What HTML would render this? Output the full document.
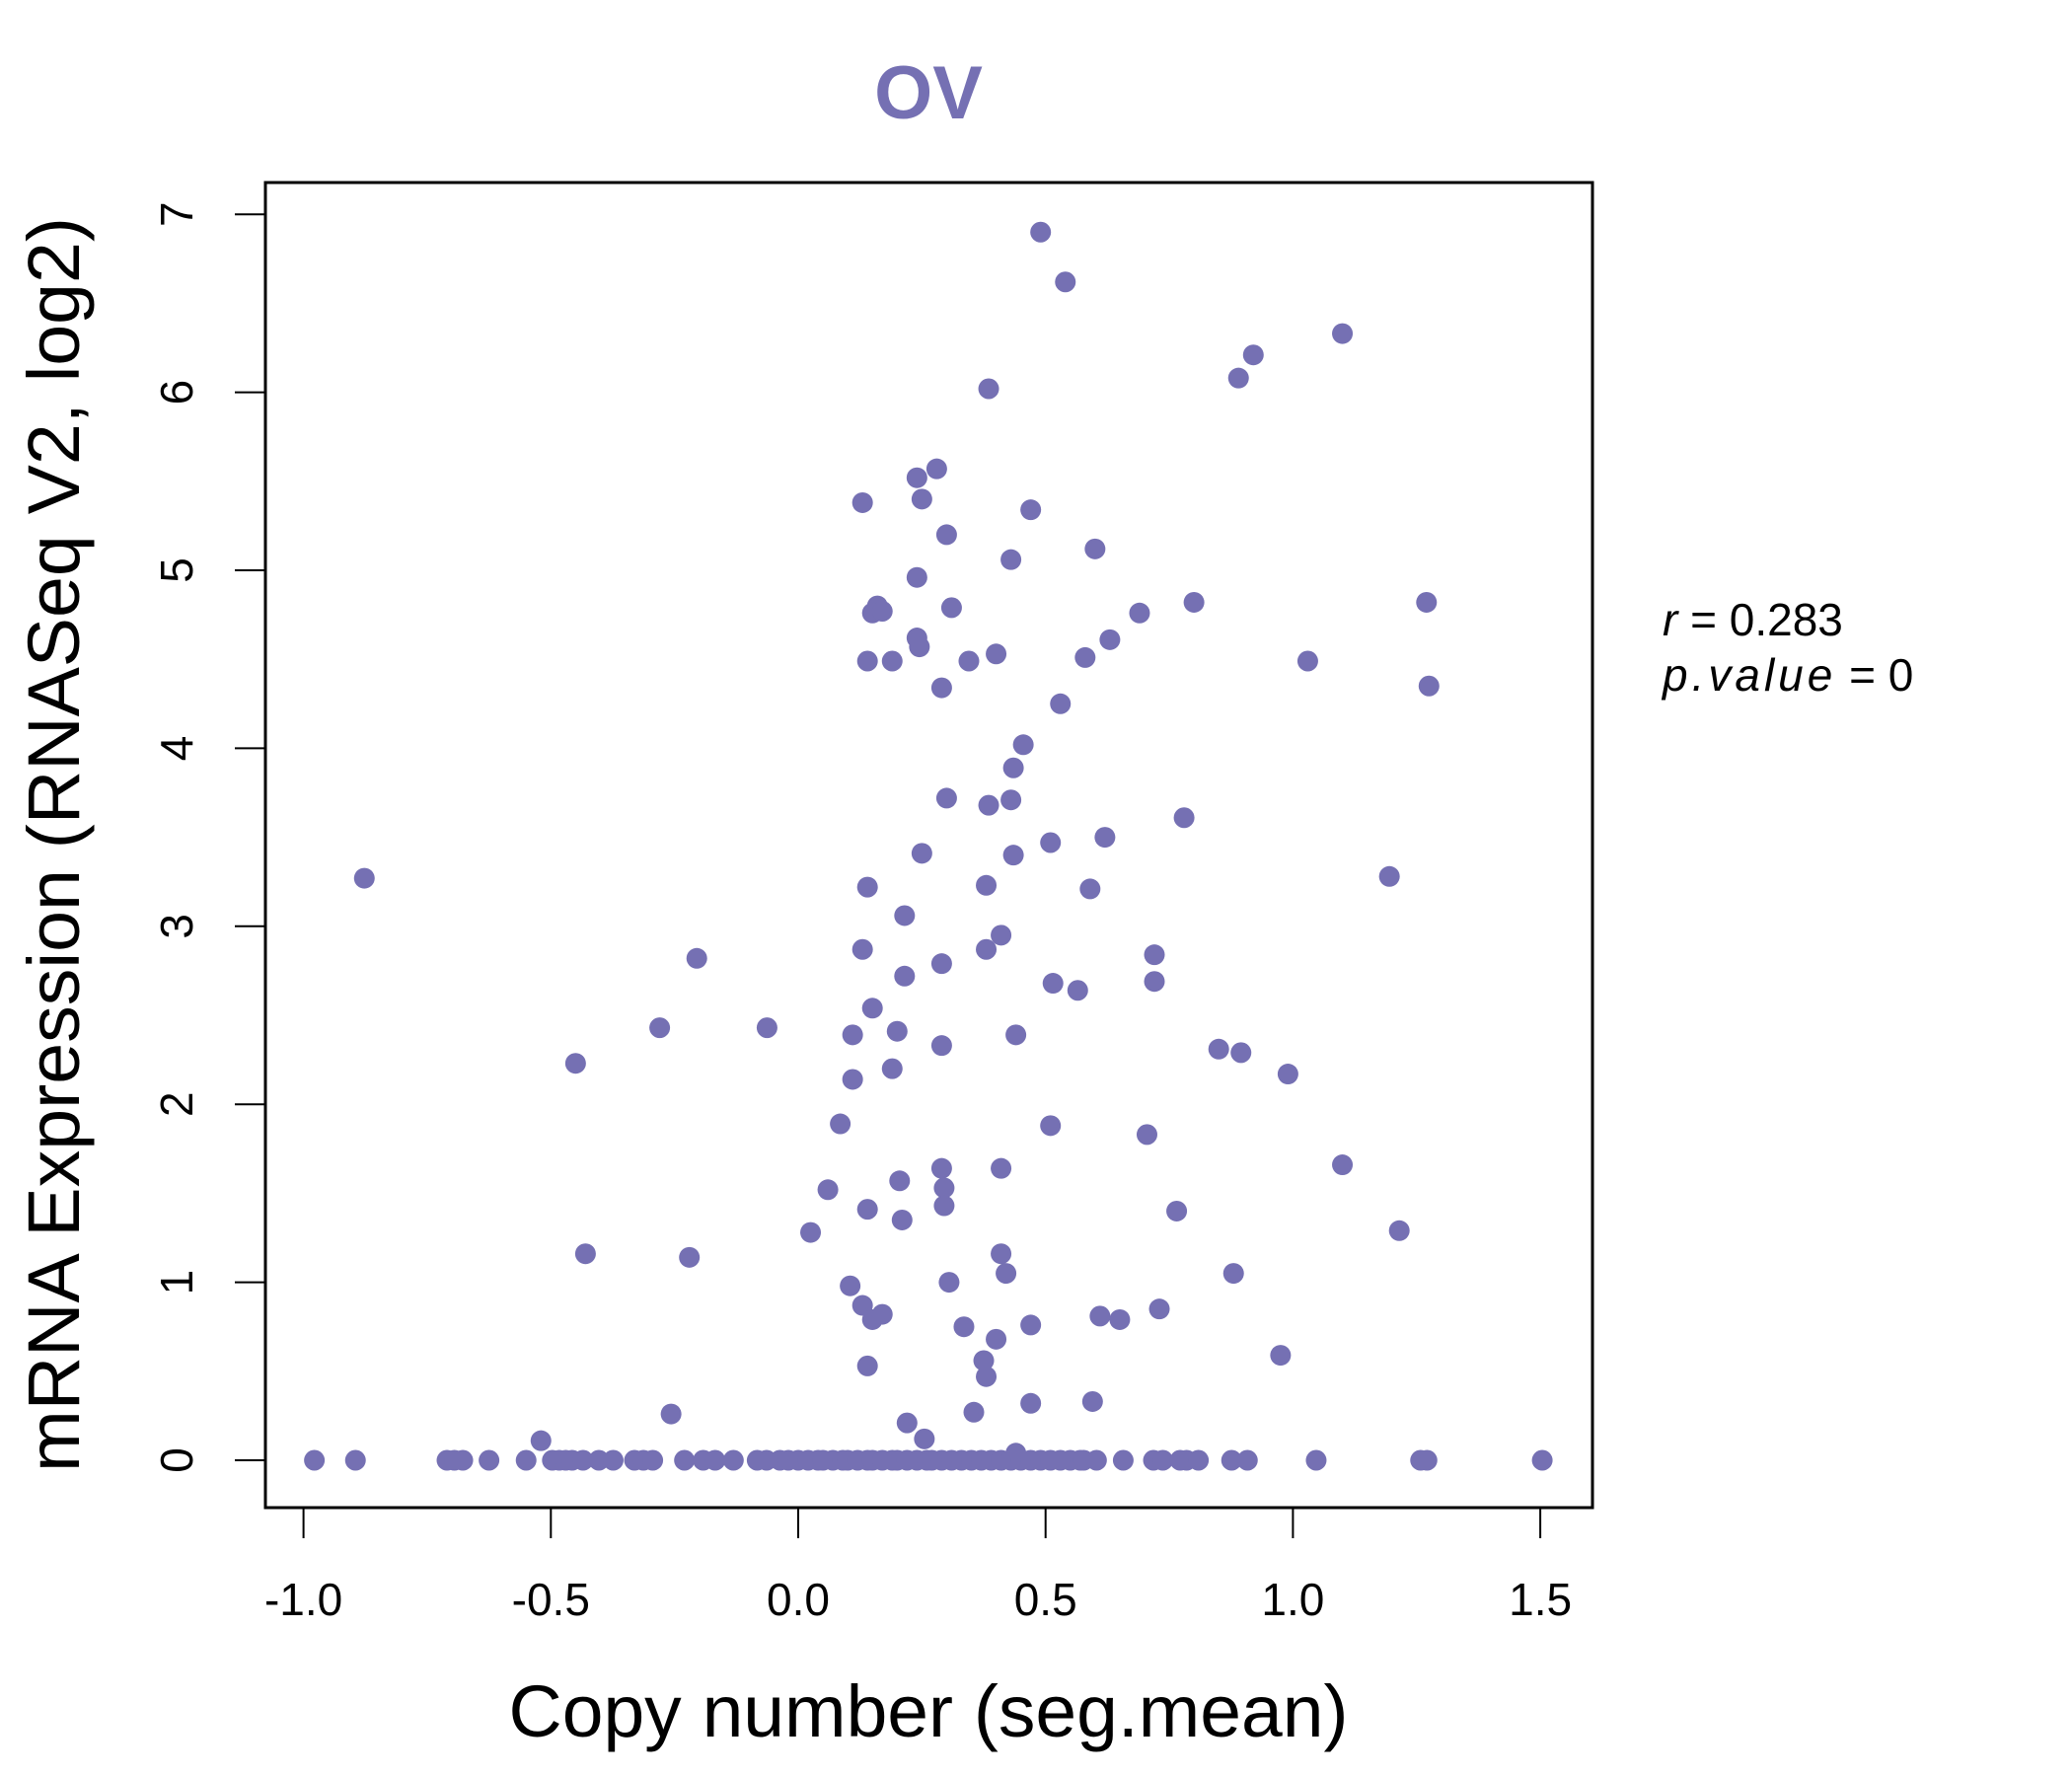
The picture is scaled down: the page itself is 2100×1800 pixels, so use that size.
<!DOCTYPE html>
<html><head><meta charset="utf-8"><style>
html,body{margin:0;padding:0;background:#fff;}
svg{display:block;}
text{font-family:"Liberation Sans",sans-serif;}
</style></head><body>
<svg id="chart" width="2100" height="1800" viewBox="0 0 2100 1800" xmlns="http://www.w3.org/2000/svg">
<rect width="2100" height="1800" fill="#fff"/>
<text x="941" y="120" font-size="76" font-weight="bold" fill="#7570b3" text-anchor="middle">OV</text>
<rect x="269" y="185" width="1345" height="1343" fill="none" stroke="#000" stroke-width="3"/>
<g id="xaxis"></g>
<g id="yaxis"></g>
<g id="points"></g>
<text x="941" y="1760" font-size="74" text-anchor="middle" textLength="851" lengthAdjust="spacingAndGlyphs">Copy number (seg.mean)</text>
<text transform="translate(80,856) rotate(-90)" font-size="74" text-anchor="middle" textLength="1272" lengthAdjust="spacingAndGlyphs">mRNA Expression (RNASeq V2, log2)</text>
<text x="1685" y="644" font-size="46"><tspan font-style="italic">r</tspan> = 0.283</text>
<text x="1685" y="700" font-size="46"><tspan font-style="italic" letter-spacing="4">p.value</tspan> = 0</text>
</svg>
<script>
const xTicks = [-1.0, -0.5, 0.0, 0.5, 1.0, 1.5];
const xTickLabels = ["-1.0", "-0.5", "0.0", "0.5", "1.0", "1.5"];
const yTicks = [0, 1, 2, 3, 4, 5, 6, 7];
const yTickLabels = ["0", "1", "2", "3", "4", "5", "6", "7"];
const xValues = [0.49,0.54,1.10,0.92,0.89,0.385,0.28,0.24,0.13,0.25,0.47,0.30,0.60,0.43,0.24,1.27,0.80,0.31,0.16,0.15,0.17,0.69,0.24,0.63,0.245,0.40,0.345,0.58,0.14,0.19,1.03,1.275,0.29,0.53,0.455,0.435,0.30,0.43,0.385,0.78,0.62,0.51,0.25,0.435,-0.877,1.195,0.38,0.14,0.59,0.215,0.41,0.72,0.13,0.38,-0.205,0.29,0.215,0.72,0.515,0.565,0.15,-0.28,-0.063,0.11,0.20,0.44,0.29,0.85,0.895,-0.45,0.19,0.99,0.11,0.085,0.51,0.705,1.10,0.29,0.41,0.205,0.06,0.295,0.295,0.14,0.765,0.21,1.215,0.025,-0.43,0.41,-0.22,0.42,0.88,0.305,0.105,0.13,0.73,0.17,0.15,0.61,0.65,0.335,0.47,0.40,0.975,0.375,0.14,0.38,0.595,0.47,-0.257,0.355,0.22,0.255,-0.52,0.44,
-0.978,-0.895,-0.71,-0.695,-0.678,-0.625,-0.55,-0.497,-0.483,-0.47,-0.457,-0.435,-0.403,-0.374,-0.331,-0.313,-0.294,-0.23,-0.192,-0.168,-0.131,-0.083,-0.064,-0.037,-0.02,0,0.02,0.04,0.05,0.07,0.09,0.1,0.12,0.14,0.15,0.17,0.19,0.2,0.22,0.24,0.26,0.27,0.29,0.31,0.33,0.35,0.37,0.39,0.41,0.43,0.45,0.47,0.49,0.51,0.53,0.55,0.57,0.577,0.603,0.657,0.718,0.737,0.772,0.785,0.809,0.876,0.908,1.047,1.258,1.271,1.504];
const yValues = [6.90,6.62,6.33,6.21,6.08,6.02,5.57,5.52,5.38,5.40,5.34,5.20,5.12,5.06,4.96,4.82,4.82,4.79,4.80,4.76,4.77,4.76,4.62,4.61,4.57,4.53,4.49,4.51,4.49,4.49,4.49,4.35,4.34,4.25,4.02,3.89,3.72,3.71,3.68,3.61,3.50,3.47,3.41,3.40,3.27,3.28,3.23,3.22,3.21,3.06,2.95,2.84,2.87,2.87,2.82,2.79,2.72,2.69,2.68,2.64,2.54,2.43,2.43,2.39,2.41,2.39,2.33,2.31,2.29,2.23,2.20,2.17,2.14,1.89,1.88,1.83,1.66,1.64,1.64,1.57,1.52,1.53,1.43,1.41,1.40,1.35,1.29,1.28,1.16,1.16,1.14,1.05,1.05,1.00,0.98,0.87,0.85,0.82,0.79,0.81,0.79,0.75,0.76,0.68,0.59,0.56,0.53,0.47,0.33,0.32,0.26,0.27,0.21,0.12,0.11,0.04,
0,0,0,0,0,0,0,0,0,0,0,0,0,0,0,0,0,0,0,0,0,0,0,0,0,0,0,0,0,0,0,0,0,0,0,0,0,0,0,0,0,0,0,0,0,0,0,0,0,0,0,0,0,0,0,0,0,0,0,0,0,0,0,0,0,0,0,0,0,0,0];
const NS = "http://www.w3.org/2000/svg";
function xScale(v){ return 809 + v*501.4; }
function yScale(v){ return 1480 - v*180.4; }
const xg = document.getElementById('xaxis');
const yg = document.getElementById('yaxis');
const pg = document.getElementById('points');
xTicks.forEach((t,i)=>{
  const l = document.createElementNS(NS,'line');
  
  
  l.setAttribute('x1',xScale(t)); l.setAttribute('x2',xScale(t));
  l.setAttribute('y1',1528); l.setAttribute('y2',1559);
  l.setAttribute('stroke','#000'); l.setAttribute('stroke-width','2');
  xg.appendChild(l);
  const tx = document.createElementNS(NS,'text');
  
  
  tx.setAttribute('x',xScale(t)); tx.setAttribute('y',1637);
  tx.setAttribute('font-size','46'); tx.setAttribute('text-anchor','middle');
  tx.textContent = xTickLabels[i];
  xg.appendChild(tx);
});
const xl = document.createElementNS(NS,'line');


xl.setAttribute('x1',xScale(xTicks[0])); xl.setAttribute('x2',xScale(xTicks[xTicks.length-1]));
xl.setAttribute('y1',1528); xl.setAttribute('y2',1528);
xl.setAttribute('stroke','#000'); xl.setAttribute('stroke-width','2');
xg.appendChild(xl);
yTicks.forEach((t,i)=>{
  const l = document.createElementNS(NS,'line');
  
  
  l.setAttribute('x1',238); l.setAttribute('x2',269);
  l.setAttribute('y1',yScale(t)); l.setAttribute('y2',yScale(t));
  l.setAttribute('stroke','#000'); l.setAttribute('stroke-width','2');
  yg.appendChild(l);
  const tx = document.createElementNS(NS,'text');
  
  
  tx.setAttribute('transform','translate(195,'+yScale(t)+') rotate(-90)');
  tx.setAttribute('font-size','46'); tx.setAttribute('text-anchor','middle');
  tx.textContent = yTickLabels[i];
  yg.appendChild(tx);
});
xValues.forEach((v,i)=>{
  const c = document.createElementNS(NS,'circle');
  
  
  c.setAttribute('cx',xScale(v)); c.setAttribute('cy',yScale(yValues[i]));
  c.setAttribute('r','10.5'); c.setAttribute('fill','#7570b3');
  pg.appendChild(c);
});
</script>
</body></html>
